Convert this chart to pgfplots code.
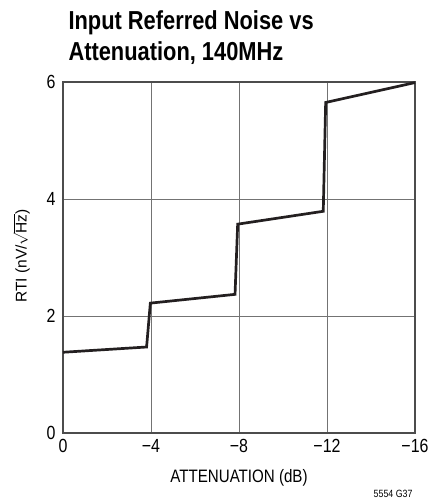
\documentclass[border=0pt]{standalone}
\usepackage{fontspec}
\setmainfont[FakeStretch=0.84]{Liberation Sans}
\newfontfamily\plainfont{Liberation Sans}
\usepackage{pgfplots}
\pgfplotsset{compat=1.18}
\definecolor{curve}{HTML}{231F20}
\begin{document}
\begin{tikzpicture}
\useasboundingbox (-63pt,-67pt) rectangle (368pt,433pt);
\begin{axis}[at={(0,0)}, anchor=south west, scale only axis,
  width=352pt, height=351pt,
  xmin=-16, xmax=0, x dir=reverse, ymin=0, ymax=6,
  xtick={0,-4,-8,-12,-16}, xticklabels={0,−4,−8,−12,−16},
  ytick={0,2,4,6}, yticklabels={0,2,4,6},
  grid=major, major grid style={color=black!55, line width=0.8pt},
  axis line style={color=black!70, line width=1.2pt},
  tick style={draw=none},
  ticklabel style={font=\fontsize{19}{19}\selectfont},
  xticklabel style={yshift=-3pt},
  yticklabel style={xshift=-4pt},
  clip=false]
\addplot[color=curve, line width=2.7pt, line join=miter, mark=none] coordinates {
  (0,1.38) (-3.80,1.47) (-3.97,2.22) (-7.82,2.37) (-7.94,3.57)
  (-11.83,3.79) (-11.94,5.65) (-16,5.99)
};
\end{axis}
\node[anchor=base west, font=\fontsize{26}{26}\selectfont\bfseries] at (2pt,403pt) {Input Referred Noise vs};
\node[anchor=base west, font=\fontsize{26}{26}\selectfont\bfseries] at (2pt,372pt) {Attenuation, 140MHz};
\node[anchor=base, font=\fontsize{18}{18}\selectfont] at (176pt,-49pt) {ATTENUATION (dB)};
\node[rotate=90, anchor=center, inner sep=0pt, font=\plainfont\fontsize{15.5}{15.5}\selectfont] at (-41.5pt,177pt) {RTI (nV/\ensuremath{\sqrt{\mbox{Hz}}})};
\node[anchor=base east, font=\fontsize{10.5}{10.5}\selectfont] at (353pt,-64pt) {5554 G37};
\end{tikzpicture}
\end{document}
